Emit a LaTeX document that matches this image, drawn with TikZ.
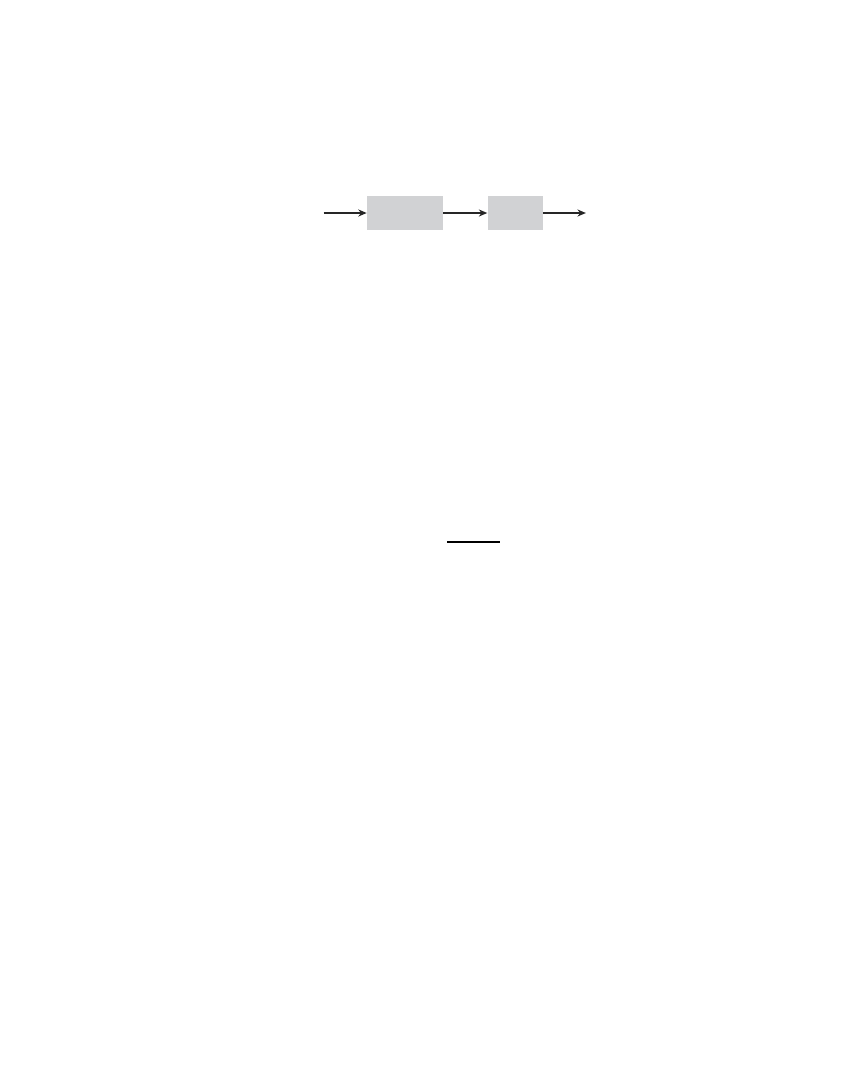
\documentclass[tikz,border=0pt]{standalone}
\usepackage{tikz}
\usetikzlibrary{arrows.meta}
\usetikzlibrary{positioning}
\definecolor{blockgray}{RGB}{209,210,212}
\tikzset{
  block/.style={fill=blockgray, inner sep=0pt, minimum height=0.85cm},
  signal/.style={line width=1.4pt, -{Stealth[length=6pt,width=5pt]}, color=black!85}
}

\begin{document}
\begin{tikzpicture}[x=0.025cm, y=-0.025cm]
        \useasboundingbox (0,0) rectangle (864,1080);
        \node [block, minimum width=1.9cm] (plant) at (405,213) {};
        \node [block, minimum width=1.375cm, right=1.1cm of plant] (sensor) {};
        \coordinate [left=1.075cm of plant] (in);
        \coordinate [right=1.075cm of sensor] (out);

        \draw [signal] (in) -- (plant);
        \draw [signal] (plant) -- (sensor);
        \draw [signal] (sensor) -- (out);

        \coordinate (bar1) at (447,542);
        \coordinate (bar2) at (500,542);
        \draw [line width=0.8pt] (bar1) -- (bar2);
      \end{tikzpicture}
\end{document}
